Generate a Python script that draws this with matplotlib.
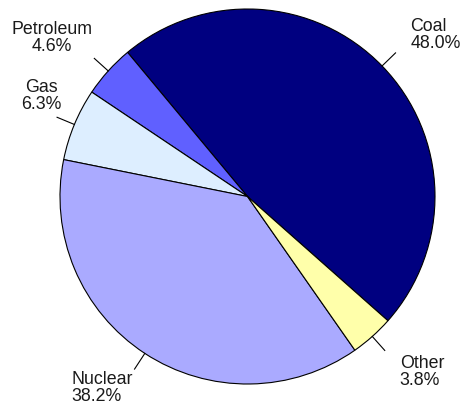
import numpy as np
import matplotlib.pyplot as plt

plt.rcParams['font.family'] = ['Liberation Sans', 'DejaVu Sans']

# share of generation by source (%)
sources = ["Coal", "Petroleum", "Gas", "Nuclear", "Other"]
shares = [48.0, 4.6, 6.3, 38.2, 3.8]
colors = ["#000080", "#6060FF", "#DDEEFF", "#AAAAFF", "#FFFFAA"]

# where the labels sit (data units, pie radius = 1) and how lines align
label_xy = [(1.003, 0.861), (-1.043, 0.845), (-1.101, 0.536), (-0.776, -1.021), (0.931, -0.936)]
label_align = ["left", "center", "center", "left", "left"]

fig = plt.figure(figsize=(4.68, 4.04), dpi=100)
ax = fig.add_axes([60/468, 20/404, 375/468, 375/404])

wedges, _ = ax.pie(shares, colors=colors, startangle=-41.5, counterclock=True,
                   wedgeprops=dict(edgecolor="black", linewidth=0.8))

for w, name, val, xy, al in zip(wedges, sources, shares, label_xy, label_align):
    mid = np.deg2rad((w.theta1 + w.theta2) / 2)
    ax.plot([np.cos(mid), 1.1*np.cos(mid)], [np.sin(mid), 1.1*np.sin(mid)],
            color="black", linewidth=0.8, clip_on=False)
    ax.text(xy[0], xy[1], f"{name}\n{val:.1f}%", ha="center", va="center",
            multialignment=al, fontsize=12.8, color="#1a1a1a", linespacing=1.0)

ax.set_xlim(-1, 1)
ax.set_ylim(-1, 1)
ax.set_aspect("equal")
ax.axis("off")

plt.savefig("out.png", dpi=100)
